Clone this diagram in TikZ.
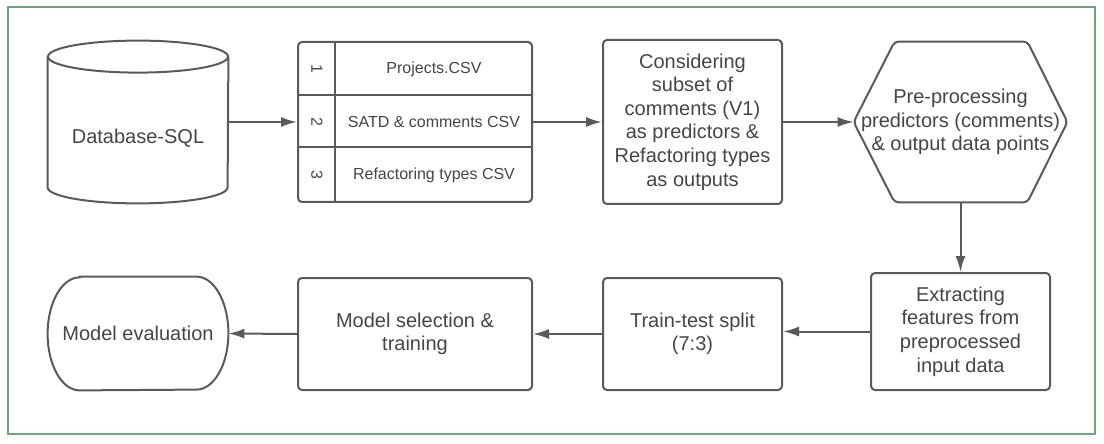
\documentclass[tikz,border=0pt]{standalone}
\usepackage{fontspec}
\setmainfont{Liberation Sans}
\usepackage{tikz}
\usetikzlibrary{arrows.meta, calc}
\definecolor{lineGray}{HTML}{5A5A5A}
\definecolor{textGray}{HTML}{454545}
\definecolor{frameGreen}{HTML}{6BA77B}

\begin{document}
\begin{tikzpicture}[
  x=0.5pt, y=-0.5pt,
  base/.style={draw=lineGray, line width=1pt, text=textGray, align=center, font=\fontsize{10}{11.8}\selectfont},
  box/.style={base, rectangle, rounded corners=2pt},
  bare/.style={text=textGray, align=center, font=\fontsize{10}{11.8}\selectfont, inner sep=0pt},
  outline/.style={draw=lineGray, line width=1pt},
  cell/.style={text=textGray, font=\fontsize{8}{10}\selectfont},
  arr/.style={-{Latex[length=8pt, width=5pt]}, draw=lineGray, line width=1pt}
]
  \useasboundingbox (0,0) rectangle (1104,444);
  \draw[frameGreen, line width=1.2pt] (8,7) rectangle (1095,434);

  % top row
  \node[bare, minimum width=90pt, minimum height=65pt] (db) at (138,138) {Database-SQL};
  \draw[outline] ([yshift=8pt]db.north) ellipse [x radius=45pt, y radius=8pt];
  \draw[outline] ([yshift=8pt]db.north west) -- ([yshift=8pt]db.south west)
    arc[start angle=180, end angle=360, x radius=45pt, y radius=8pt] -- ([yshift=8pt]db.north east);

  \node[box, minimum width=117pt, minimum height=80pt] (tbl) at (415,122) {};
  \draw[outline] ([xshift=19pt]tbl.north west) -- ([xshift=19pt]tbl.south west);
  \draw[outline] ([yshift=-27pt]tbl.north west) -- ([yshift=-27pt]tbl.north east);
  \draw[outline] ([yshift=-53pt]tbl.north west) -- ([yshift=-53pt]tbl.north east);
  \foreach \n/\y/\t in {1/69/Projects.CSV, 2/122/SATD \& comments CSV, 3/175/Refactoring types CSV} {
    \node[cell, rotate=-90] (num\n) at (317,\y) {\n};
    \node[cell] (row\n) at (434,\y) {\t};
  }

  \node[box, minimum width=89.5pt, minimum height=82pt] (cons) at (692.5,122)
    {Considering\\subset of\\comments (V1)\\as predictors \&\\Refactoring types\\as outputs};

  \node[bare, minimum width=106.5pt, minimum height=80pt] (prep) at (960.5,122)
    {Pre-processing\\predictors (comments)\\\& output data points};
  \draw[outline, rounded corners=2pt] (prep.west) -- ([xshift=20.5pt]prep.north west)
    -- ([xshift=-20pt]prep.north east) -- (prep.east) -- ([xshift=-20pt]prep.south east)
    -- ([xshift=20.5pt]prep.south west) -- cycle;

  % bottom row
  \node[box, minimum width=89.5pt, minimum height=58.5pt] (extr) at (960.5,331.5)
    {Extracting\\features from\\preprocessed\\input data};
  \node[box, minimum width=89.5pt, minimum height=56pt] (split) at (692.5,334) {Train-test split\\(7:3)};
  \node[box, minimum width=117pt, minimum height=56pt] (msel) at (415,334) {Model selection \&\\training};

  \node[bare, minimum width=90pt, minimum height=56.5pt] (meval) at (138,333.5) {Model evaluation};
  \draw[outline] ([xshift=16pt]meval.north west) -- ([xshift=-16pt]meval.north east)
    arc[start angle=90, end angle=-90, x radius=16pt, y radius=28.25pt]
    -- ([xshift=16pt]meval.south west)
    arc[start angle=270, end angle=90, x radius=16pt, y radius=28.25pt] -- cycle;

  \draw[arr] (db.east |- tbl.west) -- (tbl.west);
  \draw[arr] (tbl.east) -- (cons.west);
  \draw[arr] (cons.east) -- (prep.west);
  \draw[arr] (prep.south) -- (extr.north);
  \draw[arr] (extr.west) -- (extr.west -| split.east);
  \draw[arr] (split.west) -- (msel.east);
  \draw[arr] (msel.west) -- (meval.east);
\end{tikzpicture}
\end{document}
